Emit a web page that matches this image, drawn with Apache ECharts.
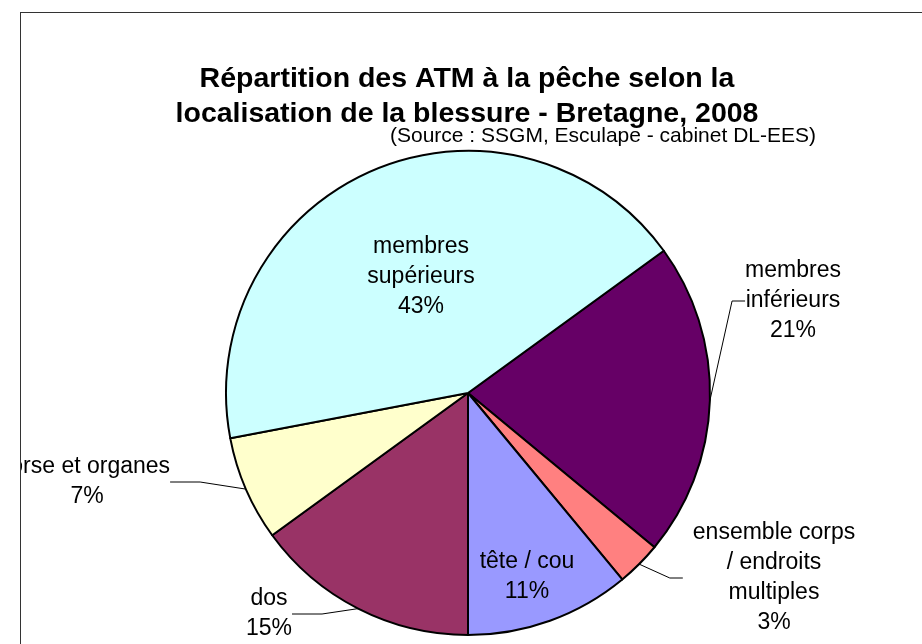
<!DOCTYPE html>
<html>
<head>
<meta charset="utf-8">
<script src="https://cdn.jsdelivr.net/npm/echarts@6/dist/echarts.min.js"></script>
<style>
  html, body { margin: 0; padding: 0; background: #fff; overflow: hidden; }
  #frame { position: absolute; left: 20px; top: 12px; width: 922px; height: 644px;
    border: 1px solid #333; overflow: hidden; background: #fff; }
  #chart { width: 922px; height: 644px; }
</style>
</head>
<body>
<div id="frame"><div id="chart"></div></div>
<script>
// order follows the pie, clockwise from the top-right boundary
const categories = ['membres\ninférieurs', 'ensemble corps\n/ endroits\nmultiples', 'tête / cou', 'dos', 'torse et organes', 'membres\nsupérieurs']
const shares = [21, 3, 11, 15, 7, 43]
const colors = ['#660066', '#FF8080', '#9999FF', '#993366', '#FFFFCC', '#CCFFFF']
const insideLabel = [false, false, true, false, false, true]
// label centres, in chart pixels
const labelPos = [[772, 288], [753, 565], [506, 564], [248, 601], [66, 469], [400, 264]]

// leader for the two right-hand labels: bend, then run flat into the label's left side
function layoutLabel(p) {
  const [cx, cy] = labelPos[p.dataIndex]
  const out = { x: cx, y: cy, align: 'center', verticalAlign: 'middle' }
  if (p.dataIndex === 0 || p.dataIndex === 1 || p.dataIndex === 1) {
    const gap = p.dataIndex === 0 ? 0 : 10
    const endX = cx - p.labelRect.width / 2 - gap
    const start = p.labelLinePoints ? p.labelLinePoints[0] : null
    if (start) out.labelLinePoints = [start, [endX - 13, cy], [endX, cy]]
  }
  return out
}

const chart = echarts.init(document.getElementById('chart'))
chart.setOption({
  animation: false,
  title: [
    { text: 'Répartition des ATM à la pêche selon la\nlocalisation de la blessure - Bretagne, 2008',
      left: 441, top: 44, textAlign: 'center',
      textStyle: { fontFamily: 'Liberation Sans', fontSize: 28.5, fontWeight: 'bold', color: '#000', lineHeight: 35 } },
    { text: '(Source : SSGM, Esculape - cabinet DL-EES)',
      right: 122, top: 108,
      textStyle: { fontFamily: 'Liberation Sans', fontSize: 21, fontWeight: 'normal', color: '#000' } }
  ],
  series: [{
    type: 'pie',
    center: [447, 380],
    radius: 242,
    startAngle: 36,
    clockwise: true,
    percentPrecision: 0,
    avoidLabelOverlap: false,
    itemStyle: { borderColor: '#000', borderWidth: 2 },
    emphasis: { disabled: true },
    label: {
      formatter: '{b}\n{d}%',
      fontFamily: 'Liberation Sans', fontSize: 23, lineHeight: 30, color: '#000', align: 'center'
    },
    labelLine: { show: true, lineStyle: { color: '#000', width: 1 } },
    labelLayout: layoutLabel,
    data: categories.map((c, i) => ({
      name: c, value: shares[i],
      itemStyle: { color: colors[i] },
      label: { position: insideLabel[i] ? 'inside' : 'outside' },
      labelLine: { show: !insideLabel[i] }
    }))
  }]
})
</script>
</body>
</html>
